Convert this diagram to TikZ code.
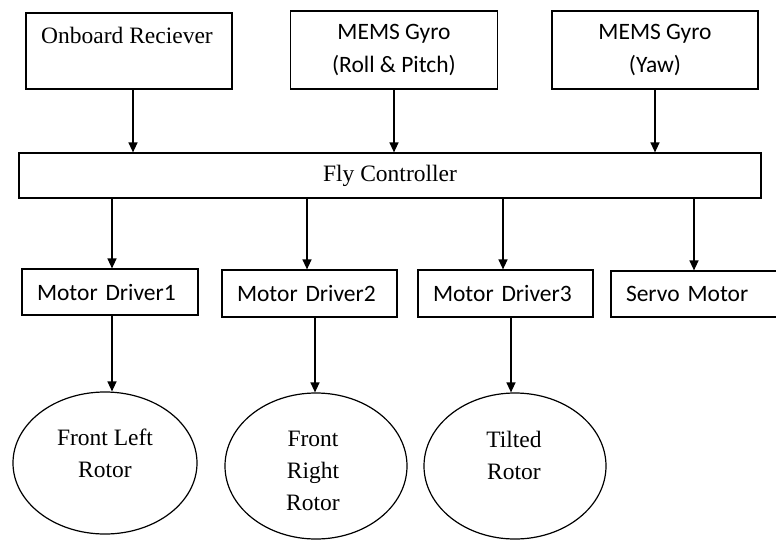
\documentclass[tikz,border=0pt]{standalone}
\usepackage{fontspec}
\setmainfont{Liberation Serif}
\newfontfamily\calfont{Carlito}
\usetikzlibrary{arrows.meta,shapes.geometric}
\begin{document}
\begin{tikzpicture}[x=1pt,y=-1pt,
  box/.style={draw, line width=1.2pt, inner sep=0pt},
  serif/.style={font=\fontsize{23.5}{32}\selectfont, align=center},
  sans/.style={font=\calfont\fontsize{23.5}{33}\selectfont, align=center},
  drv/.style={box, font=\calfont\fontsize{23.5}{28}\selectfont, align=left, inner xsep=15pt},
  oval/.style={draw, ellipse, line width=1.2pt, inner sep=0pt},
  arr/.style={line width=1.3pt, -{Triangle[length=10pt,width=9pt]}}]
\useasboundingbox (0,0) rectangle (776,541);
\clip (0,0) rectangle (776,541);

% inputs
\node[box, minimum width=206pt, minimum height=76pt] (rec) at (129,51) {};
\node[serif, anchor=base] (rectext) at (127,43) {Onboard Reciever};
\node[box, sans, minimum width=207pt, minimum height=78pt] (gyro1) at (394,50) {MEMS Gyro\\(Roll \& Pitch)};
\node[box, sans, minimum width=206pt, minimum height=78pt] (gyro2) at (655,50) {MEMS Gyro\\(Yaw)};

% controller
\node[box, serif, minimum width=742pt, minimum height=45pt] (fc) at (390,175.5) {Fly Controller};

% drivers
\node[drv, text width=146pt, minimum height=46pt] (md1) at (110,292) {Motor Driver1};
\node[drv, text width=145pt, minimum height=47pt] (md2) at (309.5,293.5) {Motor Driver2};
\node[drv, text width=145pt, minimum height=47pt] (md3) at (505.5,293.5) {Motor Driver3};
\node[drv, text width=170pt, minimum height=46pt] (servo) at (711,294) {Servo Motor};

% rotors
\node[oval, minimum width=184pt, minimum height=142pt] (e1) at (105,463) {};
\node[serif] (e1t) at (105,453) {Front Left\\Rotor};
\node[oval, minimum width=182pt, minimum height=146pt] (e2) at (316,466) {};
\node[serif] (e2t) at (313,470.5) {Front\\Right\\Rotor};
\node[oval, minimum width=182pt, minimum height=146pt] (e3) at (515,466) {};
\node[serif] (e3t) at (514,455) {Tilted\\Rotor};

% connectors
\draw[arr] ([xshift=4pt]rec.south) -- ([xshift=4pt]rec.south |- fc.north);
\draw[arr] (gyro1.south) -- (gyro1.south |- fc.north);
\draw[arr] (gyro2.south) -- (gyro2.south |- fc.north);

\draw[arr] ([xshift=2pt]md1.north |- fc.south) -- ([xshift=2pt]md1.north);
\draw[arr] ([xshift=-2.5pt]md2.north |- fc.south) -- ([xshift=-2.5pt]md2.north);
\draw[arr] ([xshift=-2.5pt]md3.north |- fc.south) -- ([xshift=-2.5pt]md3.north);
\draw[arr] ([xshift=-17pt]servo.north |- fc.south) -- ([xshift=-17pt]servo.north);

\draw[arr] ([xshift=2pt]md1.south) -- ([xshift=2pt]md1.south |- e1.north);
\draw[arr] ([xshift=5.5pt]md2.south) -- ([xshift=5.5pt]md2.south |- e2.north);
\draw[arr] ([xshift=5.5pt]md3.south) -- ([xshift=5.5pt]md3.south |- e3.north);
\end{tikzpicture}
\end{document}
